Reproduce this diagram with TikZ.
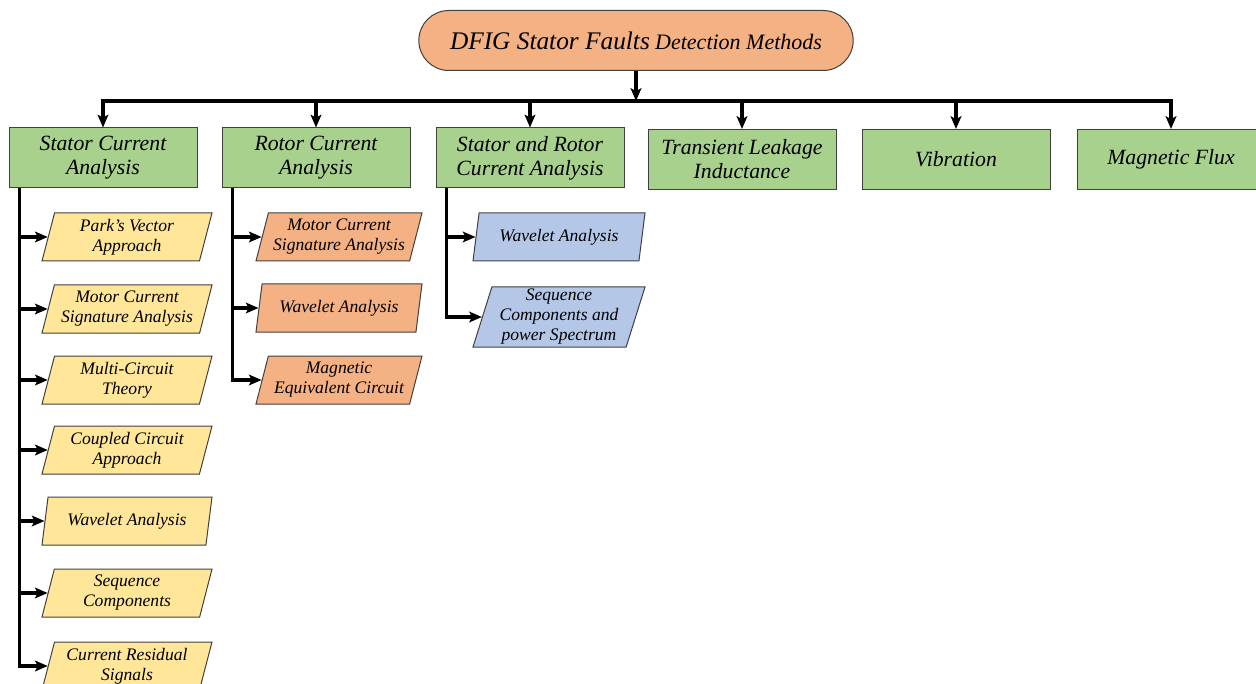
\documentclass[tikz,border=0pt]{standalone}
\usepackage{fontspec}
\setmainfont{Liberation Serif}
\usetikzlibrary{shapes.geometric,shapes.misc,arrows.meta}
\definecolor{gbox}{HTML}{A9D18E}
\definecolor{obox}{HTML}{F4B183}
\definecolor{ybox}{HTML}{FFE699}
\definecolor{bbox}{HTML}{B4C7E7}
\definecolor{edge}{HTML}{404040}
\tikzset{
  conn/.style={line width=2.3pt, draw=black, -{Stealth[length=9.5pt,width=8pt,inset=2pt]}},
  greenbox/.style={rectangle, draw=edge, line width=0.75pt, fill=gbox, minimum width=141pt, minimum height=45pt, inner sep=1pt, align=center, font=\fontsize{16.3}{18}\selectfont\itshape},
  para/.style={trapezium, trapezium left angle=72, trapezium right angle=108, trapezium stretches body, draw=edge, line width=0.75pt, minimum height=36pt, inner xsep=1pt, inner ysep=1pt, align=center, font=\fontsize{13.2}{15}\selectfont\itshape},
  ypara/.style={para, fill=ybox, minimum width=127.5pt},
  opara/.style={para, fill=obox, minimum width=124.5pt},
  bpara/.style={para, fill=bbox, minimum width=129pt},
  topnode/.style={rounded rectangle, draw=edge, line width=0.75pt, fill=obox, minimum width=327.75pt, minimum height=45pt, inner sep=1pt, font=\itshape}
}
\begin{document}
\begin{tikzpicture}[x=0.75pt,y=-0.75pt]
\useasboundingbox (0,0) rectangle (1256,684);
% top
\node[topnode] (top) at (636,40.5) {{\fontsize{19}{22}\selectfont DFIG Stator Faults}\hspace{4pt}{\fontsize{16.5}{20}\selectfont Detection Methods}};
% level 1
\node[greenbox] (s1) at (103,158) {Stator Current\\Analysis};
\node[greenbox] (s2) at (316,158) {Rotor Current\\Analysis};
\node[greenbox] (s3) at (530,158) {Stator and Rotor\\Current Analysis};
\node[greenbox] (s4) at (742,159.5) {Transient Leakage\\Inductance};
\node[greenbox] (s5) at (956,159.5) {Vibration};
\node[greenbox] (s6) at (1171,159.5) {Magnetic Flux};
% bus
\coordinate (bus) at (636,101);
\draw[conn] (top.south) -- (bus);
\draw[conn] (bus) -| (s1.north);
\draw[conn] (bus) -| (s6.north);
\foreach \n in {s2,s3,s4,s5} \draw[conn] (\n.north |- bus) -- (\n.north);
% stator column
\node[ypara] (a1) at (127,237) {Park's Vector\\Approach};
\node[ypara] (a2) at (127,309) {Motor Current\\Signature Analysis};
\node[ypara] (a3) at (127,380) {Multi-Circuit\\Theory};
\node[ypara] (a4) at (127,450) {Coupled Circuit\\Approach};
\node[ypara] (a5) at (127,521) {Wavelet Analysis};
\node[ypara] (a6) at (127,593) {Sequence\\Components};
\node[ypara] (a7) at (127,666) {Current Residual\\Signals};
\coordinate (t1) at ([xshift=8.25pt]s1.south west);
\draw[conn] (t1) |- (a7.left side);
\foreach \n in {a1,a2,a3,a4,a5,a6} \draw[conn] (t1 |- \n.left side) -- (\n.left side);
% rotor column
\node[opara] (b1) at (339,237) {Motor Current\\Signature Analysis};
\node[opara] (b2) at (339,308) {Wavelet Analysis};
\node[opara] (b3) at (339,380) {Magnetic\\Equivalent Circuit};
\coordinate (t2) at ([xshift=8.25pt]s2.south west);
\draw[conn] (t2) |- (b3.left side);
\foreach \n in {b1,b2} \draw[conn] (t2 |- \n.left side) -- (\n.left side);
% stator and rotor column
\node[bpara] (c1) at (559,237) {Wavelet Analysis};
\node[bpara, minimum height=45pt] (c2) at (559,317) {Sequence\\Components and\\power Spectrum};
\coordinate (t3) at ([xshift=8.25pt]s3.south west);
\draw[conn] (t3) |- (c2.left side);
\draw[conn] (t3 |- c1.left side) -- (c1.left side);
\end{tikzpicture}
\end{document}
